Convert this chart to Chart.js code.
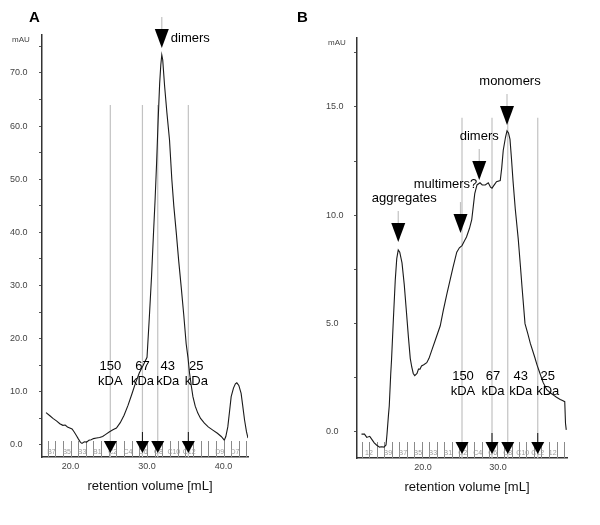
<!DOCTYPE html>
<html>
<head>
<meta charset="utf-8">
<script src="https://cdn.jsdelivr.net/npm/chart.js@4.4.0/dist/chart.umd.min.js"></script>
<style>
  html, body { margin: 0; padding: 0; background: #fff; }
  body { width: 600px; height: 525px; position: relative; overflow: hidden; }
  .panel { position: absolute; top: 0; height: 525px; }
  #panelA { left: 0; width: 300px; }
  #panelB { left: 290px; width: 310px; }
</style>
</head>
<body>
<div class="panel" id="panelA"><canvas id="chartA"></canvas></div>
<div class="panel" id="panelB"><canvas id="chartB"></canvas></div>
<script>
const FONT = "'Liberation Sans', Arial, sans-serif";

// ---- panel A : retention volume (mL) vs absorbance (mAU)
const volA = [16.8, 17.3, 17.7, 18.2, 18.6, 19.0, 19.3, 19.6, 19.9, 20.2, 20.5, 20.8, 21.0, 21.3, 21.5,
  21.8, 22.1, 22.4, 22.7, 23.0, 23.4, 23.8, 24.2, 24.6, 25.1, 25.6, 26.0, 26.5, 27.0, 27.5, 28.0, 28.5,
  29.0, 29.5, 30.0, 30.3, 30.6, 30.85, 31.05, 31.25, 31.45, 31.65, 31.8, 31.93, 32.05, 32.3, 32.6, 32.94,
  33.24, 33.5, 33.82, 34.15, 34.47, 34.8, 35.12, 35.35, 35.56, 35.8, 36.0, 36.3, 36.64, 37.0, 37.5, 38.0,
  38.6, 39.2, 39.7, 40.1, 40.3, 40.56, 40.8, 41.0, 41.3, 41.55, 41.74, 42.0, 42.3, 42.5, 42.75, 43.0, 43.2];
const mauA = [6.1, 5.5, 5.0, 4.5, 4.0, 3.7, 3.75, 3.4, 3.2, 3.0, 2.4, 1.7, 1.2, 0.5, 0.3,
  0.6, 0.55, 0.9, 1.0, 1.2, 1.3, 1.4, 1.6, 2.0, 2.5, 2.9, 3.2, 4.2, 5.6, 7.4, 9.5, 11.7,
  13.6, 15.0, 16.5, 24, 32, 40, 46, 53, 61, 68, 71.5, 73.4, 72.5, 67.5, 62.5, 57.4,
  50, 45, 40, 34.5, 29.7, 24.5, 19, 16.5, 13.5, 11.0, 9.1, 7.3, 6.0, 5.0, 4.1, 3.4,
  2.8, 2.2, 1.6, 0.9, 1.6, 3.4, 6.5, 9.1, 10.7, 11.5, 11.7, 11.2, 9.7, 7.5, 4.7, 2.5, 1.3];
const xTicksA = [20, 30, 40];
const yTicksA = [0, 5, 10, 15, 20, 25, 30, 35, 40, 45, 50, 55, 60, 65, 70, 75];
const fracTicksA = [17, 18, 19, 20, 21, 22, 23, 24, 25, 26, 27, 28, 29, 30, 31, 32, 33, 34, 35, 36, 37,
  38, 39, 40, 41, 42, 43];
const fracPosA = [17.5, 19.5, 21.5, 23.5, 25.5, 27.5, 29.5, 31.5, 33.5, 35.5, 37.5, 39.5, 41.5];
const fracLabelsA = ['B7', 'B5', 'B3', 'B1', 'C2', 'C4', 'C6', 'C8', 'C10', 'C12', '', 'D9', 'D7'];
const markerVolA = [25.2, 29.4, 31.4, 35.4];
const peakNamesA = ['dimers'];
const peakVolA = [31.93];
const peakTipA = [74.7];

// ---- panel B
const volB = [11.8, 12.2, 12.5, 12.9, 13.2, 13.5, 13.8, 14.2, 14.5, 14.8, 15.07, 15.2, 15.4, 15.5, 15.7,
  15.8, 16.05, 16.3, 16.5, 16.7, 16.9, 17.2, 17.5, 17.8, 18.05, 18.3, 18.5, 18.7, 18.9, 19.2, 19.4, 19.6,
  19.8, 20.1, 20.5, 20.8, 21.2, 21.6, 22.0, 22.3, 22.7, 23.2, 23.6, 24.0, 24.5, 24.85, 25.2, 25.5, 25.8,
  26.2, 26.5, 26.7, 26.9, 27.2, 27.6, 27.9, 28.3, 28.7, 29.0, 29.2, 29.5, 29.8, 30.3, 30.5, 30.7, 31.0,
  31.2, 31.4, 31.6, 31.8, 32.0, 32.3, 32.7, 33.0, 33.2, 33.6, 34.0, 34.3, 34.9, 35.2, 35.6, 36.0, 36.5,
  37.0, 37.4, 37.8, 38.3, 38.6, 38.9, 39.0, 39.1];
const mauB = [-0.1, -0.1, -0.25, -0.2, -0.35, -0.5, -0.6, -0.7, -0.68, -0.7, -0.6, -0.1, 0.8, 1.2, 2.7,
  3.3, 5.2, 7.0, 8.0, 8.4, 8.3, 7.8, 6.8, 5.5, 4.4, 3.4, 3.0, 2.7, 2.6, 2.7, 2.9, 2.9,
  3.05, 3.1, 3.2, 3.4, 3.8, 4.2, 4.6, 4.9, 5.6, 6.4, 7.0, 7.6, 8.3, 8.5, 8.6, 8.8, 9.0,
  9.4, 9.8, 10.4, 11.0, 11.4, 11.5, 11.4, 11.4, 11.5, 11.3, 11.25, 11.4, 11.55, 11.6, 12.2, 13.0, 13.6,
  13.9, 13.8, 13.5, 12.6, 11.6, 10.3, 8.9, 7.6, 6.7, 5.0, 4.5, 4.1, 3.45, 3.1, 2.7, 2.3, 1.95,
  1.8, 1.7, 1.6, 1.5, 1.45, 1.4, 0.4, 0.1];
const xTicksB = [20, 30];
const yTicksB = [0, 2.5, 5, 7.5, 10, 12.5, 15, 17.5];
const fracTicksB = [11.8, 12.8, 13.8, 14.8, 15.8, 16.8, 17.8, 18.8, 19.8, 20.8, 21.8, 22.8, 23.8, 24.8,
  25.8, 26.8, 27.8, 28.8, 29.8, 30.8, 31.8, 32.8, 33.8, 34.8, 35.8, 36.8, 37.8, 38.8];
const fracPosB = [12.8, 15.3, 17.3, 19.3, 21.3, 23.3, 25.3, 27.3, 29.3, 31.3, 33.3, 35.3, 37.3];
const fracLabelsB = ['12', 'B9', 'B7', 'B5', 'B3', 'B1', 'C2', 'C4', 'C6', 'C8', 'C10', 'C12', '12'];
const markerVolB = [25.2, 29.2, 31.3, 35.3];
const peakNamesB = ['monomers', 'dimers', 'multimers?', 'aggregates'];
const peakVolB = [31.2, 27.5, 25.0, 16.7];
const peakTipB = [14.17, 11.63, 9.18, 8.77];

// size standards, shared by both panels
const markerMass = ['150', '67', '43', '25'];
const markerUnit = ['kDA', 'kDa', 'kDa', 'kDa'];

function tri(ctx, x, tip, w, h) {
  ctx.beginPath();
  ctx.moveTo(x - w / 2, tip - h);
  ctx.lineTo(x + w / 2, tip - h);
  ctx.lineTo(x, tip);
  ctx.closePath();
  ctx.fill();
}

function vline(ctx, x, y0, y1) {
  ctx.beginPath();
  ctx.moveTo(x, y0);
  ctx.lineTo(x, y1);
  ctx.stroke();
}

function makeMarks(p) {
  return {
    id: 'marks',
    beforeDatasetsDraw(chart) {
      const { ctx, chartArea: a, scales: { x, y } } = chart;
      ctx.save();
      // fraction collector ticks + labels
      ctx.strokeStyle = '#8a8a8a';
      ctx.lineWidth = 1;
      p.fracTicks.forEach(v => {
        const px = Math.round(x.getPixelForValue(v)) + 0.5;
        vline(ctx, px, a.bottom, a.bottom - 16);
      });
      ctx.fillStyle = '#9a9a9a';
      ctx.font = '7px ' + FONT;
      ctx.textAlign = 'center';
      ctx.textBaseline = 'middle';
      p.fracPos.forEach((v, i) => ctx.fillText(p.fracLabels[i], x.getPixelForValue(v), a.bottom - 5));
      // size standard lines
      ctx.strokeStyle = '#c2c2c2';
      ctx.lineWidth = 1.2;
      p.markers.forEach(v => {
        const px = x.getPixelForValue(v);
        vline(ctx, px, y.getPixelForValue(p.markerTop), a.bottom);
      });
      ctx.restore();
    },
    afterDatasetsDraw(chart) {
      const { ctx, chartArea: a, scales: { x, y } } = chart;
      ctx.save();
      ctx.textAlign = 'center';
      ctx.textBaseline = 'middle';
      // size standard arrows and labels
      p.markers.forEach((v, i) => {
        const px = x.getPixelForValue(v);
        const tip = a.bottom - 4;
        if (i % 2 === 1) {
          ctx.strokeStyle = '#111';
          ctx.lineWidth = 1;
          vline(ctx, px, tip - 21, tip - 12);
        }
        ctx.fillStyle = '#000';
        tri(ctx, px, tip, 13, 12);
        ctx.font = '13px ' + FONT;
        const lx = px + p.massDx[i];
        ctx.fillText(markerMass[i], lx, a.bottom - p.massRise);
        ctx.fillText(markerUnit[i], lx, a.bottom - p.massRise + 15);
      });
      // peak annotations
      p.peakNames.forEach((name, i) => {
        const px = x.getPixelForValue(p.peakVol[i]);
        const tip = y.getPixelForValue(p.peakTip[i]);
        const top = tip - 19;
        ctx.strokeStyle = '#c2c2c2';
        ctx.lineWidth = 1.2;
        vline(ctx, px, top - 12, top);
        ctx.fillStyle = '#000';
        tri(ctx, px, tip, 14, 19);
        ctx.font = '13px ' + FONT;
        if (p.peakPlace[i] === 'right') {
          ctx.textAlign = 'left';
          ctx.fillText(name, px + 9, top + 9);
          ctx.textAlign = 'center';
        } else {
          ctx.fillText(name, px + p.peakDx[i], top - p.peakDy[i]);
        }
      });
      // unit, panel letter, axis title
      ctx.fillStyle = '#444';
      ctx.font = '8px ' + FONT;
      ctx.textAlign = 'left';
      ctx.fillText('mAU', chart.scales.y.left + 2, a.top + 5);
      ctx.fillStyle = '#000';
      ctx.font = 'bold 15px ' + FONT;
      ctx.fillText(p.letter, p.letterX, 18);
      ctx.textAlign = 'center';
      ctx.fillStyle = '#111';
      ctx.font = '13px ' + FONT;
      ctx.fillText('retention volume [mL]', (a.left + a.right) / 2 + 5, a.bottom + 29);
      ctx.restore();
    }
  };
}

function makeChart(id, vol, mau, cfg) {
  const pts = vol.map((v, i) => ({ x: v, y: mau[i] }));
  return new Chart(document.getElementById(id), {
    type: 'line',
    data: {
      datasets: [{
        data: pts,
        borderColor: '#1a1a1a',
        borderWidth: 1.1,
        pointRadius: 0,
        tension: 0
      }]
    },
    options: {
      responsive: true,
      maintainAspectRatio: false,
      animation: false,
      devicePixelRatio: 1,
      layout: { padding: { left: cfg.padLeft, right: cfg.padRight, top: cfg.padTop, bottom: 0 } },
      plugins: { legend: { display: false }, tooltip: { enabled: false } },
      scales: {
        x: {
          type: 'linear',
          min: cfg.xMin,
          max: cfg.xMax,
          afterBuildTicks: s => { s.ticks = cfg.xTicks.map(v => ({ value: v })); },
          afterFit: s => { s.height = cfg.xHeight; },
          grid: { display: false, drawTicks: false, tickLength: 0 },
          border: { color: '#333', width: 1.5 },
          ticks: {
            font: { family: FONT, size: 9 },
            color: '#444',
            padding: 4,
            maxRotation: 0,
            autoSkip: false,
            callback: v => v.toFixed(1)
          }
        },
        y: {
          min: cfg.yMin,
          max: cfg.yMax,
          afterBuildTicks: s => { s.ticks = cfg.yTicks.map(v => ({ value: v })); },
          afterFit: s => { s.width = cfg.yWidth; },
          grid: { drawOnChartArea: false, drawTicks: true, tickLength: 3, color: '#555' },
          border: { color: '#333', width: 1.5 },
          ticks: {
            font: { family: FONT, size: 9 },
            color: '#444',
            crossAlign: 'far',
            autoSkip: false,
            callback: v => (v % cfg.labelStep === 0 ? v.toFixed(1) : '')
          }
        }
      }
    },
    plugins: [makeMarks(cfg)]
  });
}

makeChart('chartA', volA, mauA, {
  xMin: 16.27, xMax: 43.2, yMin: -2.26, yMax: 77.15,
  xTicks: xTicksA, yTicks: yTicksA, labelStep: 10,
  padLeft: 10, padRight: 52, padTop: 35, yWidth: 32, xHeight: 68,
  fracTicks: fracTicksA, fracPos: fracPosA, fracLabels: fracLabelsA,
  markers: markerVolA, markerTop: 64, massDx: [0, 0, 10, 8], massRise: 91,
  peakNames: peakNamesA, peakVol: peakVolA, peakTip: peakTipA,
  peakPlace: ['right'], peakDx: [0], peakDy: [0],
  letter: 'A', letterX: 29
});

makeChart('chartB', volB, mauB, {
  xMin: 11.2, xMax: 39.2, yMin: -1.2, yMax: 18.18,
  xTicks: xTicksB, yTicks: yTicksB, labelStep: 5,
  padLeft: 36, padRight: 33, padTop: 38, yWidth: 31, xHeight: 67,
  fracTicks: fracTicksB, fracPos: fracPosB, fracLabels: fracLabelsB,
  markers: markerVolB, markerTop: 14.5, massDx: [1, 1, 13, 10], massRise: 82,
  peakNames: peakNamesB, peakVol: peakVolB, peakTip: peakTipB,
  peakPlace: ['above', 'above', 'above', 'above'], peakDx: [3, 0, -15, 6], peakDy: [24, 25, 30, 25],
  letter: 'B', letterX: 7
});
</script>
</body>
</html>
